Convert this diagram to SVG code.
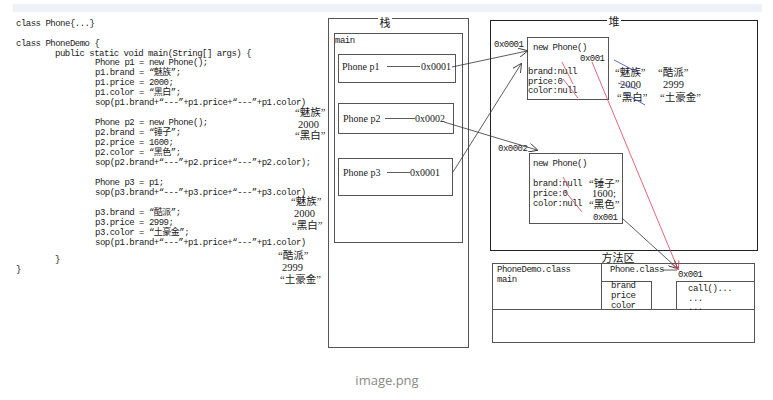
<svg xmlns="http://www.w3.org/2000/svg" width="773" height="400" viewBox="0 0 773 400">
<defs>
<style>
.code{font-family:"Liberation Mono","Noto Sans CJK SC",monospace;font-size:9px;letter-spacing:-0.5px;fill:#1a1a1a}
.ann{font-family:"Liberation Serif","Noto Sans CJK SC",serif;font-size:10.5px;fill:#1a1a1a}
.ser{font-family:"Liberation Serif","Noto Sans CJK SC",serif;font-size:10px;fill:#1a1a1a}
.ttl{font-family:"Noto Sans CJK SC",sans-serif;font-size:11px;fill:#1a1a1a;text-anchor:middle}
.box{fill:none;stroke:#555;stroke-width:1}
.hbox{fill:none;stroke:#222;stroke-width:1}
.con{fill:none;stroke:#333;stroke-width:0.8}
.red{fill:none;stroke:#d8405a;stroke-width:0.8}
.blue{fill:none;stroke:#3a48b8;stroke-width:0.8}
</style>
<marker id="ah" viewBox="0 0 10 10" refX="9" refY="5" markerWidth="9" markerHeight="9" markerUnits="userSpaceOnUse" orient="auto">
<path d="M0,0 L10,5 L0,10" fill="none" stroke="#333" stroke-width="1"/>
</marker>
<marker id="ahr" viewBox="0 0 10 10" refX="9" refY="5" markerWidth="9" markerHeight="9" markerUnits="userSpaceOnUse" orient="auto">
<path d="M0,0 L10,5 L0,10" fill="none" stroke="#d8405a" stroke-width="1"/>
</marker>
</defs>
<rect width="773" height="400" fill="#fff"/>
<rect x="13" y="4" width="749" height="8" fill="#eef1f8"/>

<g id="code">
<text class="code" x="16" y="26">class Phone{...}</text>
<text class="code" x="16" y="46">class PhoneDemo {</text>
<text class="code" x="55" y="55.5">public static void main(String[] args) {</text>
<text class="code" x="95" y="65">Phone p1 = new Phone();</text>
<text class="code" x="95" y="75">p1.brand = “魅族”;</text>
<text class="code" x="95" y="85">p1.price = 2000;</text>
<text class="code" x="95" y="95">p1.color = “黑白”;</text>
<text class="code" x="95" y="105">sop(p1.brand+“---”+p1.price+“---”+p1.color)</text>
<text class="code" x="95" y="125">Phone p2 = new Phone();</text>
<text class="code" x="95" y="135">p2.brand = “锤子”;</text>
<text class="code" x="95" y="145">p2.price = 1600;</text>
<text class="code" x="95" y="155">p2.color = “黑色”;</text>
<text class="code" x="95" y="165">sop(p2.brand+“---”+p2.price+“---”+p2.color);</text>
<text class="code" x="95" y="185">Phone p3 = p1;</text>
<text class="code" x="95" y="195">sop(p3.brand+“---”+p3.price+“---”+p3.color)</text>
<text class="code" x="95" y="215">p3.brand = “酷派”;</text>
<text class="code" x="95" y="225">p3.price = 2999;</text>
<text class="code" x="95" y="235">p3.color = “土豪金”;</text>
<text class="code" x="95" y="245">sop(p1.brand+“---”+p1.price+“---”+p1.color)</text>
<text class="code" x="55" y="262">}</text>
<text class="code" x="16" y="272">}</text>
<text class="ann" x="295" y="116">“魅族”</text>
<text class="ann" x="298" y="127.5">2000</text>
<text class="ann" x="295" y="139">“黑白”</text>
<text class="ann" x="291" y="205">“魅族”</text>
<text class="ann" x="294" y="217">2000</text>
<text class="ann" x="292" y="229">“黑白”</text>
<text class="ann" x="278" y="259">“酷派”</text>
<text class="ann" x="282" y="270.5">2999</text>
<text class="ann" x="280" y="282.5">“土豪金”</text>
</g>

<g id="stack">
<rect class="box" x="328.5" y="18.5" width="140" height="329"/>
<rect x="378" y="15" width="14" height="12" fill="#fff"/>
<text class="ttl" x="385" y="27">栈</text>
<rect class="box" x="334.5" y="33.5" width="128" height="209"/>
<text class="code" x="335" y="43">main</text>
</g>
<g id="p1">
<rect class="box" x="338.5" y="54.5" width="117" height="28"/>
<text class="ser" x="342" y="70">Phone p1</text>
<line class="con" x1="387" y1="66.5" x2="420" y2="66.5"/>
<text class="ser" x="421" y="70">0x0001</text>
</g>
<g id="p2">
<rect class="box" x="338.5" y="103.5" width="115" height="30"/>
<text class="ser" x="343" y="122">Phone p2</text>
<line class="con" x1="385" y1="118.5" x2="415" y2="118.5"/>
<text class="ser" x="415" y="122">0x0002</text>
</g>
<g id="p3">
<rect class="box" x="338.5" y="158.5" width="114" height="37"/>
<text class="ser" x="343" y="176">Phone p3</text>
<line class="con" x1="387" y1="172.5" x2="410" y2="172.5"/>
<text class="ser" x="410" y="176">0x0001</text>
</g>

<g id="heap">
<rect class="hbox" x="490.5" y="20.5" width="267" height="230"/>
<rect x="607" y="15" width="14" height="12" fill="#fff"/>
<text class="ttl" x="614" y="26">堆</text>
<text class="ann" x="615" y="76">“魅族”</text>
<text class="ann" x="620" y="88">2000</text>
<text class="ann" x="617" y="100.5">“黑白”</text>
<text class="ann" x="658" y="76">“酷派”</text>
<text class="ann" x="663" y="88">2999</text>
<text class="ann" x="660" y="100.5">“土豪金”</text>
<line class="blue" x1="614" y1="60" x2="641" y2="74"/>
<line class="blue" x1="618" y1="83" x2="637" y2="89"/>
<line class="blue" x1="624" y1="93" x2="645" y2="105"/>
</g>
<g id="obj1">
<rect class="box" x="527.5" y="37.5" width="81" height="62"/>
<text class="code" x="494" y="47">0x0001</text>
<text class="code" x="533" y="50">new Phone()</text>
<text class="code" x="580" y="61">0x001</text>
<text class="code" x="528" y="74">brand:null</text>
<text class="code" x="528" y="83.5">price:0</text>
<text class="code" x="528" y="93">color:null</text>
<line class="red" x1="562" y1="62" x2="573" y2="84"/>
<line class="red" x1="563" y1="79" x2="578" y2="98"/>
</g>
<g id="obj2">
<rect class="box" x="529.5" y="153.5" width="93" height="70"/>
<text class="code" x="498" y="151">0x0002</text>
<text class="code" x="533" y="166">new Phone()</text>
<text class="code" x="533" y="186">brand:null</text>
<text class="code" x="533" y="196">price:0</text>
<text class="code" x="533" y="206">color:null</text>
<text class="ann" x="589" y="186.5">“锤子”</text>
<text class="ann" x="592" y="197">1600;</text>
<text class="ann" x="589" y="207.5">“黑色”</text>
<text class="code" x="593" y="220">0x001</text>
<line class="red" x1="563" y1="177" x2="569" y2="188"/>
<line class="red" x1="564" y1="190" x2="582" y2="212"/>
</g>

<g id="method">
<rect class="box" x="492.5" y="263.5" width="262" height="79"/>
<line class="box" x1="492" y1="309.5" x2="754" y2="309.5"/>
<line class="box" x1="601.5" y1="263" x2="601.5" y2="309"/>
<rect x="603" y="252" width="30" height="11" fill="#fff"/>
<text class="ttl" x="618" y="262">方法区</text>
<text class="code" x="497" y="272">PhoneDemo.class</text>
<text class="code" x="497" y="282">main</text>
<text class="code" x="610" y="272">Phone.class</text>
<text class="code" x="678" y="277">0x001</text>
<rect class="box" x="601.5" y="281.5" width="50" height="28"/>
<text class="code" x="611" y="288">brand</text>
<text class="code" x="611" y="298">price</text>
<text class="code" x="611" y="307.5">color</text>
<rect class="box" x="676.5" y="281.5" width="78" height="28"/>
<text class="code" x="688" y="291">call()...</text>
<text class="code" x="688" y="301">...</text>
<text class="code" x="688" y="310">...</text>
</g>

<g id="connectors">
<line class="con" x1="452" y1="67" x2="527" y2="51" marker-end="url(#ah)"/>
<line class="con" x1="444" y1="122" x2="537" y2="150" marker-end="url(#ah)"/>
<line class="con" x1="453" y1="172" x2="521" y2="64" marker-end="url(#ah)"/>
<line class="con" x1="622" y1="218" x2="677" y2="268" marker-end="url(#ah)"/>
<line class="con" x1="663" y1="270" x2="677" y2="270"/>
<line class="red" x1="592" y1="62" x2="678" y2="269" marker-end="url(#ahr)"/>
</g>

<text x="387" y="385" font-family="'Open Sans','Liberation Sans',sans-serif" font-size="13" fill="#8a8a8a" text-anchor="middle">image.png</text>
</svg>
